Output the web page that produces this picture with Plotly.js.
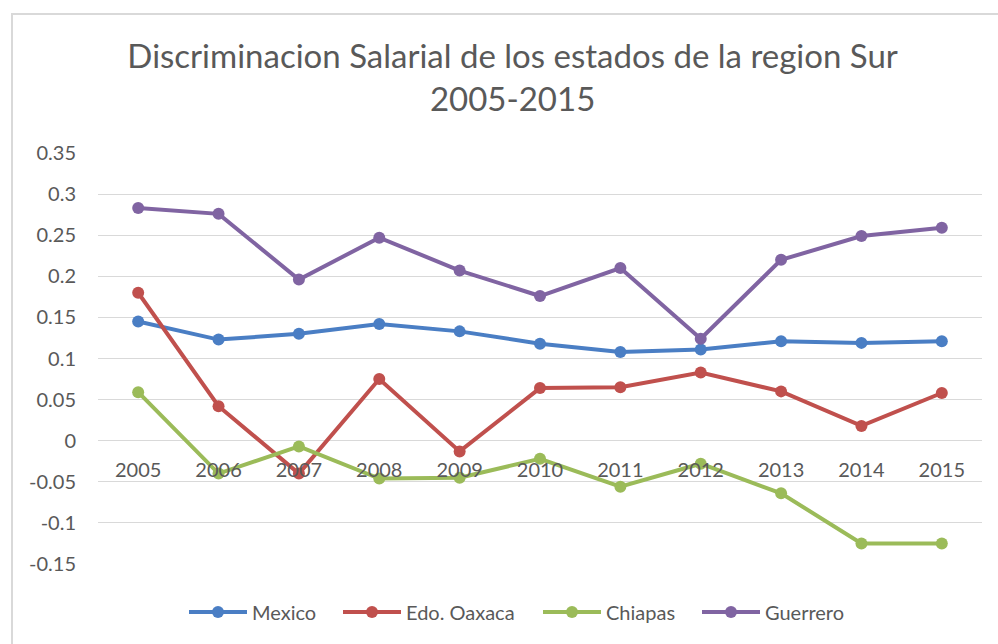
<!DOCTYPE html>
<html>
<head>
<meta charset="utf-8">
<script src="https://cdn.plot.ly/plotly-3.0.1.min.js"></script>
<style>
  html, body { margin: 0; padding: 0; background: #ffffff; }
  #wrap { position: relative; width: 998px; height: 644px; overflow: hidden; }
  #chart { position: absolute; left: 0; top: 0; width: 998px; height: 644px; }
  #frame { position: absolute; left: 11px; top: 13px; width: 1000px; height: 700px;
           border-left: 2px solid #d9d9d9; border-top: 2px solid #d9d9d9; pointer-events: none; }
</style>
</head>
<body>
<div id="wrap">
  <div id="chart"></div>
  <div id="frame"></div>
</div>
<script>
const years = ['2005','2006','2007','2008','2009','2010','2011','2012','2013','2014','2015'];
const mexico   = [0.145, 0.123, 0.130, 0.142, 0.133, 0.118, 0.108, 0.111, 0.121, 0.119, 0.121];
const oaxaca   = [0.180, 0.042, -0.040, 0.075, -0.013, 0.064, 0.065, 0.083, 0.060, 0.018, 0.058];
const chiapas  = [0.059, -0.040, -0.007, -0.046, -0.045, -0.022, -0.056, -0.028, -0.064, -0.125, -0.125];
const guerrero = [0.283, 0.276, 0.196, 0.247, 0.207, 0.176, 0.210, 0.124, 0.220, 0.249, 0.259];
const yTicks = [-0.15, -0.1, -0.05, 0, 0.05, 0.1, 0.15, 0.2, 0.25, 0.3, 0.35];
const yTickText = ['-0.15','-0.1','-0.05','0','0.05','0.1','0.15','0.2','0.25','0.3','0.35'];

const names = ['Mexico', 'Edo. Oaxaca', 'Chiapas', 'Guerrero'];
const series = [mexico, oaxaca, chiapas, guerrero];
const colors = ['#4a7ec4', '#c0504d', '#9bbb59', '#8064a2'];
const legendIds = ['legend', 'legend2', 'legend3', 'legend4'];

const traces = series.map((vals, i) => ({
  type: 'scatter',
  mode: 'lines+markers',
  name: names[i],
  legend: legendIds[i],
  x: years,
  y: vals,
  line: { color: colors[i], width: 4 },
  marker: { color: colors[i], size: 12 },
  cliponaxis: false
}));

const font = "Lato, 'Open Sans', sans-serif";

// plot area: left 98px, width 884px
const plotL = 98, plotW = 884;
const legendLineStarts = [189, 343, 543, 702];

const layout = {
  width: 998, height: 644,
  margin: { l: 98, r: 16, t: 153, b: 80, pad: 0 },
  paper_bgcolor: '#ffffff',
  plot_bgcolor: '#ffffff',
  font: { family: font, color: '#595959', size: 20 },
  title: {
    text: 'Discriminacion Salarial de los estados de la region Sur<br>2005-2015',
    font: { family: font, size: 33, color: '#595959' },
    x: 0.469, xref: 'paper', xanchor: 'center',
    y: 0.895, yref: 'container', yanchor: 'middle'
  },
  xaxis: {
    type: 'category',
    anchor: 'free',
    position: 0.3002,
    showgrid: false,
    showline: false,
    zeroline: false,
    ticks: 'outside', ticklen: 11, tickcolor: 'rgba(0,0,0,0)',
    tickfont: { family: font, size: 20, color: '#595959' },
    range: [-0.5, 10.5]
  },
  yaxis: {
    range: [-0.15, 0.35],
    tickvals: yTicks,
    ticktext: yTickText,
    showgrid: true,
    gridcolor: '#d9d9d9',
    gridwidth: 1,
    zeroline: true,
    zerolinecolor: '#d9d9d9',
    zerolinewidth: 1,
    showline: false,
    ticks: 'outside', ticklen: 17, tickcolor: 'rgba(0,0,0,0)',
    tickfont: { family: font, size: 20, color: '#595959' }
  },
  showlegend: true
};

legendIds.forEach((id, i) => {
  layout[id] = {
    orientation: 'h',
    x: (legendLineStarts[i] - 5 - plotL) / plotW, xanchor: 'left',
    y: -0.117, yanchor: 'middle',
    font: { family: font, size: 20, color: '#595959' },
    itemwidth: 58,
    bgcolor: 'rgba(0,0,0,0)',
    borderwidth: 0
  };
});

Plotly.newPlot('chart', traces, layout, { displayModeBar: false, responsive: false });
</script>
</body>
</html>
